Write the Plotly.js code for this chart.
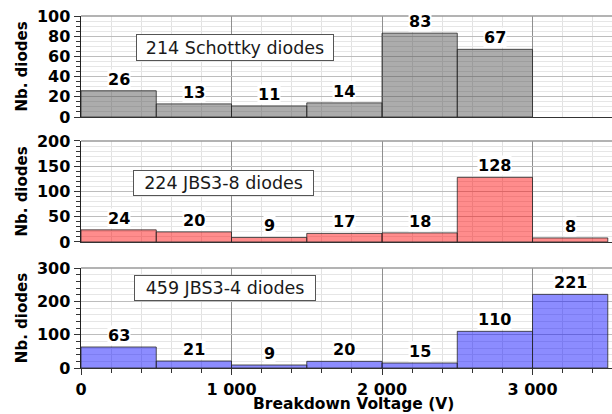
<!DOCTYPE html>
<html>
<head>
<meta charset="utf-8">
<script src="https://cdn.plot.ly/plotly-3.0.1.min.js"></script>
<style>html,body{margin:0;padding:0;background:#fff;}#chart{width:612px;height:414px;}</style>
</head>
<body>
<div id="chart"></div>
<script>
// ---- data ----
const binCenters = [250, 750, 1250, 1750, 2250, 2750, 3250];
const schottky = [26, 13, 11, 14, 83, 67, null];
const jbs38 = [24, 20, 9, 17, 18, 128, 8];
const jbs34 = [63, 21, 9, 20, 15, 110, 221];
const panelLabels = ['214 Schottky diodes', '224 JBS3-8 diodes', '459 JBS3-4 diodes'];
const yTitle = 'Nb. diodes';
const xTitle = 'Breakdown Voltage (V)';

const series = [schottky, jbs38, jbs34];
const fills = ['rgba(70,70,70,0.45)', 'rgba(255,0,0,0.45)', 'rgba(0,0,255,0.45)'];
const yRanges = [[0, 100], [0, 200], [0, 300]];
const yDticks = [20, 50, 100];
const yMinor = [5, 10, 20];
const domains = [[0.713, 1], [0.358, 0.645], [0, 0.284]];
const boxPos = [[1023, 68.8], [946, 116], [958, 241.5]];
const boxSize = [[196, 25], [179, 24], [180, 24]];

const tickFont = {family: 'DejaVu Sans', size: 16, color: '#000', weight: 'bold'};
const traces = [];
const annotations = [];
const shapes = [];
const layout = {
  width: 612, height: 414,
  margin: {l: 81, r: 0, t: 16, b: 46},
  paper_bgcolor: '#fff', plot_bgcolor: '#fff',
  separators: '. ',
  showlegend: false,
  bargap: 0,
  font: {family: 'DejaVu Sans'}
};

series.forEach((vals, i) => {
  const n = i + 1;
  const xa = 'x' + (n === 1 ? '' : n), ya = 'y' + (n === 1 ? '' : n);
  traces.push({
    type: 'bar', x: binCenters, y: vals, width: 500,
    xaxis: xa, yaxis: ya,
    marker: {color: fills[i], line: {color: 'rgba(40,40,40,0.8)', width: 1}},
    hoverinfo: 'none'
  });
  const last = n === 3;
  layout['xaxis' + (n === 1 ? '' : n)] = {
    domain: [0, 1], anchor: ya, range: [0, 3528],
    dtick: 1000, tick0: 0, tickformat: ',d',
    showticklabels: last, ticks: last ? 'outside' : '', ticklen: 6, tickcolor: '#333',
    ticklabelstandoff: 1,
    tickfont: tickFont,
    showgrid: true, gridcolor: '#8f8f8f', gridwidth: 1,
    minor: {dtick: 200, showgrid: true, gridcolor: '#e2e2e2', ticks: last ? 'outside' : '', ticklen: 4, tickcolor: '#333'},
    showline: true, linecolor: '#333', linewidth: 1,
    zeroline: false, fixedrange: true
  };
  layout['yaxis' + (n === 1 ? '' : n)] = {
    domain: domains[i], anchor: xa, range: yRanges[i], dtick: yDticks[i], tick0: 0,
    ticks: 'outside', ticklen: 6, tickcolor: '#333', tickfont: tickFont,
    showgrid: true, gridcolor: '#bdbdbd', gridwidth: 1,
    minor: {dtick: yMinor[i], showgrid: true, gridcolor: '#e6e6e6', ticks: 'outside', ticklen: 4, tickcolor: '#333'},
    showline: true, linecolor: '#222', linewidth: 1.5,
    zeroline: false, fixedrange: true,
    title: {text: yTitle, font: {family: 'DejaVu Sans', size: 15, color: '#000', weight: 'bold'}, standoff: 5}
  };
  // bar value labels
  binCenters.forEach((xc, k) => {
    if (vals[k] === null) return;
    annotations.push({
      xref: xa, yref: ya, x: xc, y: vals[k], text: String(vals[k]),
      showarrow: false, yanchor: 'bottom', xanchor: 'center', yshift: 1,
      bgcolor: '#fff', borderpad: 0,
      font: {family: 'DejaVu Sans', size: 16, color: '#000', weight: 'bold'}
    });
  });
  // panel label box
  annotations.push({
    xref: xa, yref: ya, x: boxPos[i][0], y: boxPos[i][1], text: panelLabels[i],
    showarrow: false, xanchor: 'center', yanchor: 'middle',
    width: boxSize[i][0], height: boxSize[i][1], align: 'center', valign: 'middle',
    bgcolor: '#fff', bordercolor: '#555', borderwidth: 1, borderpad: 0,
    font: {family: 'DejaVu Sans', size: 17.5, color: '#1a1a1a'}
  });
  // top frame line
  shapes.push({
    type: 'line', xref: xa + ' domain', yref: ya + ' domain',
    x0: 0, x1: 1, y0: 1, y1: 1, line: {color: '#9a9a9a', width: 1.5}
  });
});

annotations.push({
  xref: 'paper', yref: 'paper', x: 0.514, y: -0.1307, text: xTitle,
  showarrow: false, xanchor: 'center', yanchor: 'bottom', borderpad: 0,
  font: {family: 'DejaVu Sans', size: 15.5, color: '#000', weight: 'bold'}
});

layout.annotations = annotations;
layout.shapes = shapes;
Plotly.newPlot('chart', traces, layout, {staticPlot: true, displayModeBar: false});
</script>
</body>
</html>
